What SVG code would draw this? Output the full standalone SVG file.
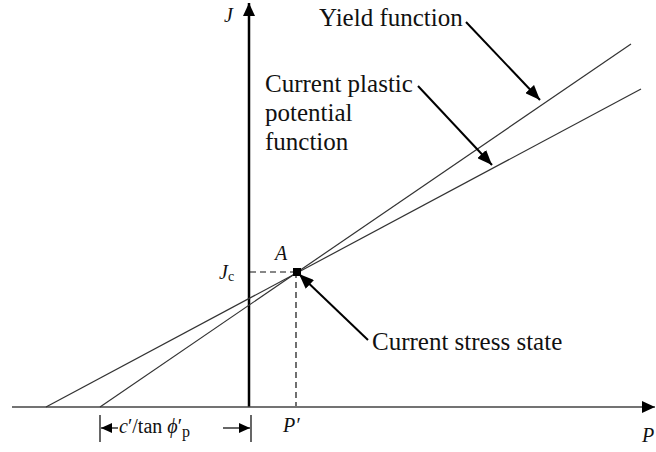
<svg xmlns="http://www.w3.org/2000/svg" width="656" height="452" viewBox="0 0 656 452">
<style>
.lbl{font-family:"Liberation Serif","Times New Roman",serif;font-size:25px;fill:#111}
.sym{font-family:"Liberation Serif","Times New Roman",serif;font-size:20px;fill:#111}
.it{font-style:italic}
.line{stroke:#333;stroke-width:1.2;fill:none}
.dash{stroke:#111;stroke-width:1.2;stroke-dasharray:6 4;fill:none}
.ann{stroke:#000;stroke-width:2;fill:none;marker-end:url(#ah)}
.dim{stroke:#000;stroke-width:1.2;fill:none}
</style>
<defs>
<marker id="ah" markerUnits="userSpaceOnUse" markerWidth="16" markerHeight="12" refX="15" refY="6" orient="auto">
<path d="M0,0 L15,6 L0,12 Z" fill="#000"/>
</marker>
<marker id="axh" markerUnits="userSpaceOnUse" markerWidth="14" markerHeight="12" refX="13" refY="6" orient="auto">
<path d="M0,0 L13,6 L0,12 Z" fill="#000"/>
</marker>
<marker id="dh" markerUnits="userSpaceOnUse" markerWidth="12" markerHeight="10" refX="11" refY="5" orient="auto">
<path d="M0,0 L11,5 L0,10 Z" fill="#000"/>
</marker>
</defs>

<g id="axes">
<line x1="249" y1="407" x2="249" y2="3" stroke="#000" stroke-width="2.5" marker-end="url(#axh)"/>
<line x1="12" y1="407" x2="655" y2="407" stroke="#444" stroke-width="1.6" marker-end="url(#axh)"/>
<text class="sym it" x="224" y="22">J</text>
<text class="sym it" x="642" y="442">P</text>
</g>

<g id="yield-function-line">
<line class="line" x1="100" y1="407" x2="631" y2="44"/>
</g>
<g id="plastic-potential-line">
<line class="line" x1="46" y1="407" x2="641" y2="89"/>
</g>

<g id="point-A">
<line class="dash" x1="250" y1="272" x2="296" y2="272"/>
<line class="dash" x1="296" y1="272" x2="296" y2="406"/>
<rect x="293" y="268" width="8" height="8" fill="#000"/>
<text class="sym it" x="275" y="260">A</text>
<text class="sym" x="219" y="279"><tspan font-style="italic">J</tspan><tspan font-size="14" dy="2">c</tspan></text>
<text class="sym" x="283" y="432" font-size="22"><tspan font-style="italic">P′</tspan></text>
</g>

<g id="label-yield">
<text class="lbl" x="319" y="26">Yield function</text>
</g>
<g id="label-plastic">
<text class="lbl" x="265" y="92">Current plastic</text>
<text class="lbl" x="265" y="121">potential</text>
<text class="lbl" x="265" y="150">function</text>
</g>
<g id="label-stress">
<text class="lbl" x="372" y="350">Current stress state</text>
</g>

<g id="connectors">
<line class="ann" x1="466" y1="22" x2="540" y2="100"/>
<line class="ann" x1="418" y1="86" x2="492" y2="165"/>
<line class="ann" x1="368" y1="340" x2="299" y2="274"/>
</g>

<g id="dimension">
<line class="dim" x1="100" y1="415" x2="100" y2="442"/>
<line class="dim" x1="251" y1="415" x2="251" y2="442"/>
<line class="dim" x1="118" y1="428" x2="101" y2="428" marker-end="url(#dh)"/>
<line class="dim" x1="223" y1="428" x2="250" y2="428" marker-end="url(#dh)"/>
<text class="sym" x="119" y="433" font-size="23"><tspan font-style="italic">c</tspan>′/tan <tspan font-style="italic">ϕ</tspan>′<tspan font-size="16" dy="4">p</tspan></text>
</g>
</svg>
